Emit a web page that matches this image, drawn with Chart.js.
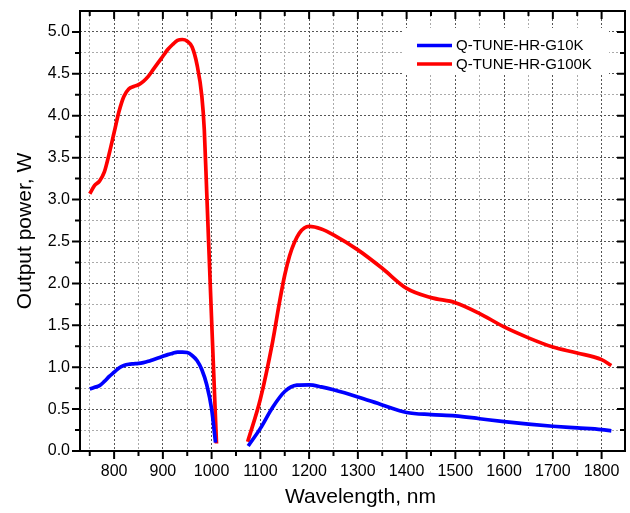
<!DOCTYPE html>
<html>
<head>
<meta charset="utf-8">
<script src="https://cdn.jsdelivr.net/npm/chart.js@4.4.1/dist/chart.umd.min.js"></script>
<style>
  html, body { margin: 0; padding: 0; background: #fff; }
  #wrap { width: 630px; height: 513px; }
</style>
</head>
<body>
<div id="wrap"><canvas id="powerChart" width="630" height="513"></canvas></div>
<script>
// values; null splits the two tuning ranges
const g10kWavelength = [750, 760, 770, 780, 790, 800, 810, 820, 830, 840, 850, 860, 870, 880, 890, 900, 910, 920, 930, 940, 950, 960, 970, 980, 990, 1000, 1008,
    1040,
    1075, 1100, 1125, 1150, 1175, 1200, 1225, 1250, 1300, 1350, 1400, 1450, 1500, 1550, 1600, 1650, 1700, 1750, 1800, 1820];
const g10kPower = [0.74, 0.76, 0.78, 0.83, 0.89, 0.94, 0.99, 1.02, 1.035, 1.04, 1.045, 1.055, 1.07, 1.09, 1.11, 1.13, 1.15, 1.165, 1.18, 1.18, 1.175, 1.14, 1.08, 0.97, 0.79, 0.50, 0.10,
    null,
    0.06, 0.27, 0.52, 0.71, 0.785, 0.79, 0.765, 0.73, 0.645, 0.55, 0.46, 0.435, 0.42, 0.385, 0.35, 0.32, 0.295, 0.275, 0.255, 0.24];

const g100kWavelength = [750, 760, 770, 780, 790, 800, 810, 820, 830, 840, 850, 860, 870, 880, 890, 900, 910, 920, 930, 940, 950, 960, 970, 980, 985, 990, 1000, 1010,
    1040,
    1074, 1100, 1125, 1140, 1150, 1160, 1170, 1180, 1190, 1200, 1225, 1250, 1300, 1350, 1400, 1450, 1500, 1550, 1600, 1650, 1700, 1750, 1800, 1820];
const g100kPower = [3.07, 3.17, 3.22, 3.33, 3.55, 3.80, 4.05, 4.23, 4.32, 4.35, 4.37, 4.41, 4.47, 4.55, 4.63, 4.71, 4.79, 4.85, 4.90, 4.91, 4.89, 4.82, 4.61, 4.23, 3.83, 3.08, 1.56, 0.09,
    null,
    0.11, 0.62, 1.30, 1.80, 2.10, 2.33, 2.49, 2.60, 2.66, 2.68, 2.65, 2.58, 2.40, 2.18, 1.94, 1.83, 1.77, 1.64, 1.48, 1.35, 1.24, 1.17, 1.09, 1.02];

const seriesLabels = ['Q-TUNE-HR-G10K', 'Q-TUNE-HR-G100K'];
const seriesColors = ['#0000ff', '#ff0000'];
const xTitle = 'Wavelength, nm';
const yTitle = 'Output power, W';

const FONT = '"Liberation Sans", Arial, sans-serif';
const toPoints = (wl, p) => wl.map((x, i) => ({ x, y: p[i] }));
const isMajorX = v => v % 100 === 0;
const isMajorY = v => Math.abs(v * 2 - Math.round(v * 2)) < 1e-6;

// frame + tick marks (outward on left/bottom, inward on top/right), the boxed legend, x title
const frameAndLegendPlugin = {
    id: 'frameAndLegend',
    beforeDatasetsDraw(chart) {
        const { ctx } = chart;
        ctx.save(); ctx.fillStyle = '#fff'; ctx.fillRect(402, 28, 207, 46); ctx.restore();
    },
    afterDraw(chart) {
        const { ctx, chartArea: { left, right, top, bottom }, scales: { x, y } } = chart;
        ctx.save();
        ctx.strokeStyle = '#000'; ctx.lineWidth = 2;
        ctx.strokeRect(left, top, right - left, bottom - top);
        ctx.beginPath();
        x.ticks.forEach(t => {
            const px = x.getPixelForValue(t.value); const len = isMajorX(t.value) ? 8 : 5;
            ctx.moveTo(px, bottom); ctx.lineTo(px, bottom + len);
            ctx.moveTo(px, top); ctx.lineTo(px, top + len);
        });
        y.ticks.forEach(t => {
            if (t.value >= y.max) return;
            const py = y.getPixelForValue(t.value); const len = isMajorY(t.value) ? 8 : 5;
            ctx.moveTo(left, py); ctx.lineTo(left - len, py);
            ctx.moveTo(right, py); ctx.lineTo(right - len, py);
        });
        ctx.stroke();

        ctx.font = '15px ' + FONT; ctx.textBaseline = 'middle'; ctx.fillStyle = '#000';
        chart.data.datasets.forEach((ds, i) => {
            const ly = 45.5 + i * 18.5;
            ctx.strokeStyle = ds.borderColor; ctx.lineWidth = 3.5;
            ctx.beginPath(); ctx.moveTo(417, ly); ctx.lineTo(452, ly); ctx.stroke();
            ctx.fillText(ds.label, 456, ly + 0.5);
        });

        // x title sits a little right of the plot centre in the original
        ctx.font = '21px ' + FONT; ctx.textAlign = 'center';
        ctx.fillText(xTitle, (left + right) / 2 + 8, 497);
        ctx.restore();
    }
};

new Chart(document.getElementById('powerChart'), {
    type: 'line',
    data: {
        datasets: [
            { label: seriesLabels[0], data: toPoints(g10kWavelength, g10kPower), borderColor: seriesColors[0] },
            { label: seriesLabels[1], data: toPoints(g100kWavelength, g100kPower), borderColor: seriesColors[1] }
        ]
    },
    options: {
        responsive: false, animation: false, devicePixelRatio: 1,
        layout: { padding: { top: 11, right: 5, left: 0, bottom: 0 } },
        elements: {
            line: { borderWidth: 3.7, cubicInterpolationMode: 'monotone', fill: false },
            point: { radius: 0, hoverRadius: 0 }
        },
        spanGaps: false,
        plugins: { legend: { display: false }, tooltip: { enabled: false } },
        scales: {
            x: {
                type: 'linear', min: 730, max: 1848,
                afterBuildTicks: s => { s.ticks = s.ticks.filter(t => t.value % 50 === 0); },
                afterFit: s => { s.height = 62; s.paddingLeft = 0; s.paddingRight = 0; },
                ticks: {
                    stepSize: 50, includeBounds: false, autoSkip: false, maxRotation: 0, padding: 11,
                    color: '#000', font: { family: FONT, size: 16 },
                    callback: v => isMajorX(v) ? String(v) : ''
                },
                grid: {
                    drawTicks: false, lineWidth: 1,
                    color: c => c.tick && isMajorX(c.tick.value) ? '#555' : '#aaa'
                },
                border: { display: false, dash: [2, 2] }
            },
            y: {
                min: 0, max: 5.25,
                afterFit: s => { s.width = 80; s.paddingTop = 0; s.paddingBottom = 0; },
                ticks: {
                    stepSize: 0.25, autoSkip: false, padding: 10,
                    color: '#000', font: { family: FONT, size: 16 },
                    callback: v => isMajorY(v) ? v.toFixed(1) : ''
                },
                grid: {
                    drawTicks: false, lineWidth: 1,
                    color: c => c.tick && isMajorY(c.tick.value) ? '#555' : '#aaa'
                },
                border: { display: false, dash: [2, 2] },
                title: { display: true, text: yTitle, color: '#000', font: { family: FONT, size: 21 }, padding: { top: 13, bottom: 0 } }
            }
        }
    },
    plugins: [frameAndLegendPlugin]
});
</script>
</body>
</html>
